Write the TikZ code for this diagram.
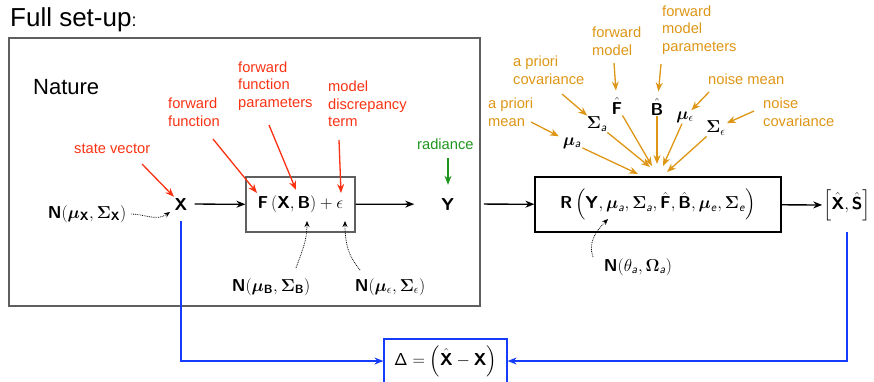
\RequirePackage{fix-cm}
\documentclass[tikz,border=0pt]{standalone}
\usepackage{amsmath}
\usepackage{bm}
\usepackage[no-math]{fontspec}
\setmainfont{Liberation Sans}
\usetikzlibrary{arrows.meta,calc}
\DeclareMathAlphabet{\mathbsf}{OT1}{cmss}{bx}{n}
\DeclareMathAlphabet{\mathssl}{OT1}{cmss}{m}{sl}
\definecolor{myred}{RGB}{250,50,20}
\definecolor{mygreen}{RGB}{30,150,30}
\definecolor{myorange}{RGB}{222,150,22}
\definecolor{myblue}{RGB}{20,60,250}
\definecolor{boxgray}{RGB}{95,95,95}
\begin{document}
\begin{tikzpicture}[x=1pt,y=-1pt,
  lbl/.style={font=\fontsize{14.7}{17.5}\selectfont, align=left, anchor=west, inner sep=0pt},
  redl/.style={lbl, text=myred},
  orl/.style={lbl, text=myorange},
  mth/.style={font=\fontsize{17.28}{20}\selectfont, inner sep=1pt},
  arr/.style={-{Stealth[length=9pt,width=7pt]}, line width=1.3pt},
  redarr/.style={arr, draw=myred, fill=myred},
  orarr/.style={arr, draw=myorange, fill=myorange},
  grarr/.style={arr, draw=mygreen, fill=mygreen},
  bluearr/.style={-{Stealth[length=9pt,width=7pt]}, line width=1.2pt, draw=myblue},
  dotarr/.style={-{Stealth[length=6pt,width=5pt]}, line width=0.8pt, densely dotted}
]
\useasboundingbox (0,0) rectangle (874,381);
\clip (0,0) rectangle (874,381);

% title and Nature box
\node[anchor=west, font=\fontsize{26}{30}\selectfont, inner sep=0pt] (title) at (10,20) {Full set-up{\fontsize{18}{20}\selectfont:}};
\node[draw=boxgray, line width=1.5pt, minimum width=471, minimum height=268, anchor=north west, inner sep=0pt] (naturebox) at (8,37) {};
\node[anchor=west, font=\fontsize{22}{26}\selectfont, inner sep=0pt] (nature) at (33,87) {Nature};

% red / green labels
\node[redl] (lsv) at (74,149) {state vector};
\node[redl] (lff) at (168,112) {forward\\function};
\node[redl] (lffp) at (238,86) {forward\\function\\parameters};
\node[redl] (lmdt) at (328,104) {model\\discrepancy\\term};
\node[lbl, text=mygreen] (lrad) at (417,144) {radiance};

% Nature part
\node[mth] (X) at (181,204) {$\mathbsf{X}$};
\node[mth] (NX) at (87,214) {$\mathbsf{N}(\bm{\mu}_{\mathbsf{X}},\bm{\Sigma}_{\mathbsf{X}})$};
\node[mth, draw=boxgray, line width=1.2pt, minimum width=109, minimum height=55] (F) at (300.5,204.5) {$\mathbsf{F}\,(\mathbsf{X},\mathbsf{B})+\epsilon$};
\node[mth] (Y) at (448,204) {$\mathbsf{Y}$};
\node[mth] (NB) at (271,287) {$\mathbsf{N}(\bm{\mu}_{\mathbsf{B}},\bm{\Sigma}_{\mathbsf{B}})$};
\node[mth] (Ne) at (390,287) {$\mathbsf{N}(\bm{\mu}_{\epsilon},\bm{\Sigma}_{\epsilon})$};

% retrieval part
\node[mth, draw, line width=1.2pt, minimum width=246, minimum height=55] (R) at (658,204.5) {$\mathbsf{R}\,\Big(\mathbsf{Y},\bm{\mu}_{\mathssl{a}},\bm{\Sigma}_{\mathssl{a}},\hat{\mathbsf{F}},\hat{\mathbsf{B}},\bm{\mu}_{\mathssl{e}},\bm{\Sigma}_{\mathssl{e}}\Big)$};
\node[mth] (XS) at (847,205) {$\Big[\hat{\mathbsf{X}},\hat{\mathbsf{S}}\Big]$};
\node[mth] (Nth) at (638,267) {$\mathbsf{N}(\theta_{\mathssl{a}},\bm{\Omega}_{\mathssl{a}})$};
\node[mth, draw=myblue, line width=1.2pt, minimum width=123, minimum height=44] (delta) at (445.5,361) {$\mathsf{\Delta}=\Big(\hat{\mathbsf{X}}-\mathbsf{X}\Big)$};

% orange labels
\node[orl] (lapm) at (488,112) {a priori\\mean};
\node[orl] (lapc) at (513,70) {a priori\\covariance};
\node[orl] (lfm) at (592,41) {forward\\model};
\node[orl] (lfmp) at (662,30) {forward\\model\\parameters};
\node[orl] (lnm) at (708,79) {noise mean};
\node[orl] (lnc) at (763,112) {noise\\covariance};

% retrieval inputs
\node[mth] (mua) at (572,143) {$\bm{\mu}_{\mathssl{a}}$};
\node[mth] (siga) at (597,124) {$\bm{\Sigma}_{\mathssl{a}}$};
\node[mth] (Fh) at (617,106) {$\hat{\mathbsf{F}}$};
\node[mth] (Bh) at (657,107) {$\hat{\mathbsf{B}}$};
\node[mth] (mue) at (685,117) {$\bm{\mu}_{\epsilon}$};
\node[mth] (sige) at (716,128) {$\bm{\Sigma}_{\epsilon}$};

% free-end coordinates
\coordinate (s1) at (142,164);
\coordinate (s2) at (213,139);
\coordinate (s3) at (269,125);
\coordinate (s4) at (339,140);
\coordinate (t2) at (257,193);
\coordinate (t3) at (296,190);
\coordinate (t4) at (341,193);
\coordinate (g1) at (448,158);
\coordinate (o1) at (531,122);
\coordinate (o2) at (562,94);
\coordinate (o3) at (614,63);
\coordinate (o4) at (661,64);
\coordinate (o5) at (709,92);
\coordinate (o6) at (754,111);
\coordinate (e1) at (638,174);
\coordinate (e2) at (650,167);
\coordinate (e3) at (652,166);
\coordinate (e4) at (657,164);
\coordinate (e5) at (663,166);
\coordinate (e6) at (667,172);
\coordinate (dX) at (170,212);
\coordinate (d1) at (296,268);
\coordinate (dB) at (307,221);
\coordinate (d2) at (360,270);
\coordinate (dE) at (345,221);
\coordinate (d3) at (593,257);
\coordinate (dR) at (608,219);

% red and green arrows
\draw[redarr] (s1) -- (X);
\draw[redarr] (s2) -- (t2);
\draw[redarr] (s3) -- (t3);
\draw[redarr] (s4) -- (t4);
\draw[grarr, shorten >=12pt] (g1) -- (Y);

% main chain
\draw[arr, shorten <=6pt] (X) -- (F);
\draw[arr, shorten >=26pt] (F) -- (Y);
\draw[arr, shorten <=28pt] (Y) -- (R);
\draw[arr] (R) -- (XS);

% dotted prior arrows
\draw[dotarr, shorten <=4pt] (NX.east) to[out=0,in=215] (dX);
\draw[dotarr] (d1) to[out=70,in=-90] (dB);
\draw[dotarr] (d2) to[out=130,in=-90] (dE);
\draw[dotarr] (d3) to[out=110,in=225] (dR);

% orange label arrows
\draw[orarr, shorten >=3pt] (o1) -- (mua);
\draw[orarr] (o2) -- (siga);
\draw[orarr, shorten >=6pt] (o3) -- (Fh);
\draw[orarr, shorten >=6pt] (o4) -- (Bh);
\draw[orarr] (o5) -- (mue);
\draw[orarr] (o6) -- (sige);

% converging arrows
\draw[orarr] (mua) -- (e1);
\draw[orarr] (siga) -- (e2);
\draw[orarr] (Fh) -- (e3);
\draw[orarr] (Bh) -- (e4);
\draw[orarr] (mue) -- (e5);
\draw[orarr] (sige) -- (e6);

% blue comparison
\draw[bluearr, shorten <=10pt] (X) |- (delta);
\draw[bluearr, shorten <=10pt] (XS) |- (delta);
\end{tikzpicture}
\end{document}
